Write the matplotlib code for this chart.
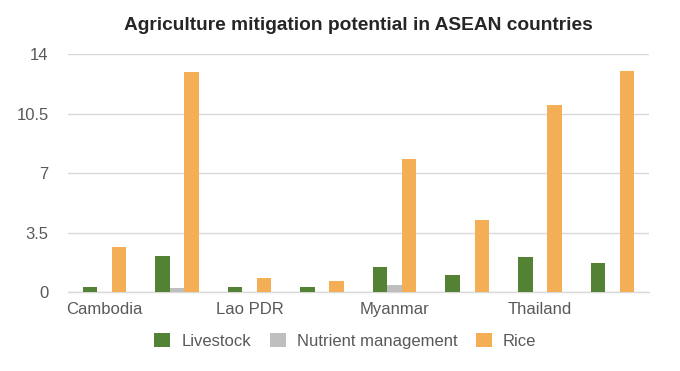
import matplotlib
matplotlib.use("Agg")
import matplotlib.pyplot as plt
import numpy as np

plt.rcParams["font.family"] = ["Liberation Sans", "DejaVu Sans"]

countries = ["Cambodia", "Indonesia", "Lao PDR", "Malaysia",
             "Myanmar", "Philippines", "Thailand", "Viet Nam"]
livestock = [0.3, 2.13, 0.27, 0.3, 1.45, 1.0, 2.08, 1.68]
nutrient = [0.0, 0.25, 0.0, 0.0, 0.41, 0.0, 0.0, 0.0]
rice = [2.65, 12.94, 0.82, 0.66, 7.8, 4.24, 10.98, 13.0]
series = [("Livestock", livestock, "#548235"),
          ("Nutrient management", nutrient, "#bfbfbf"),
          ("Rice", rice, "#f4ae55")]
yticks = [0, 3.5, 7, 10.5, 14]

INK, MUTED, GRID = "#262626", "#595959", "#d9d9d9"

fig = plt.figure(figsize=(6.8, 3.71), dpi=100)
ax = fig.add_axes([0.1, 0.213, 0.854, 0.641])

x = np.arange(len(countries))
w = 0.2
for i, (name, vals, col) in enumerate(series):
    ax.bar(x + (i - 1) * w, vals, width=w, color=col, label=name, zorder=3)

ax.set_xlim(-0.5, len(countries) - 0.5)
ax.set_ylim(0, 14)
ax.set_yticks(yticks)
ax.set_yticklabels([f"{t:g}" for t in yticks])
ax.set_xticks(x[::2])
ax.set_xticklabels(countries[::2])
ax.grid(axis="y", color=GRID, lw=1.0, zorder=0)
for side in ("top", "right", "left"):
    ax.spines[side].set_visible(False)
ax.spines["bottom"].set_color(GRID)
ax.spines["bottom"].set_linewidth(1.0)
ax.tick_params(length=0, labelsize=12, colors=MUTED)
ax.tick_params(axis="y", pad=14)
ax.tick_params(axis="x", pad=7)

fig.text(0.527, 0.93, "Agriculture mitigation potential in ASEAN countries",
         ha="center", va="center", fontsize=13.8, fontweight="bold", color=INK)

leg = fig.legend(loc="center", bbox_to_anchor=(0.508, 0.081), ncol=3, frameon=False,
                 fontsize=12, handlelength=0.95, handleheight=0.95,
                 handletextpad=0.65, columnspacing=1.15)
for t in leg.get_texts():
    t.set_color(MUTED)

fig.savefig("out.png", dpi=100)
